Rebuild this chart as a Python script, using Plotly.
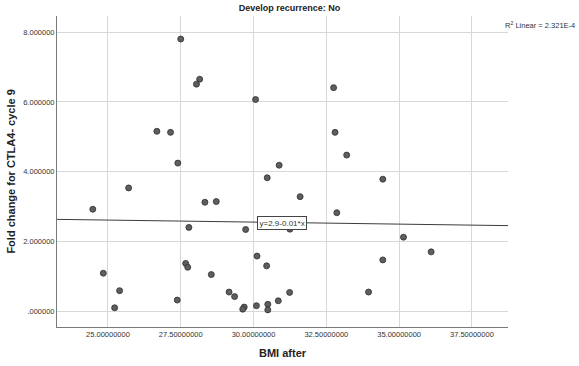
import plotly.graph_objects as go

# Data
bmi_after = [27.50, 28.15, 28.04, 30.07, 26.68, 27.15, 27.40, 32.75, 32.80, 33.20,
             30.88, 30.47, 31.60, 32.86, 29.73, 31.25, 34.44, 35.15, 36.10, 34.44,
             33.95, 25.71, 24.48, 28.33, 28.72, 27.78, 27.67, 27.74, 24.84, 25.40,
             25.23, 27.38, 30.12, 30.45, 28.55, 29.16, 29.35, 29.68, 29.63, 30.10,
             30.49, 30.49, 30.85, 31.24]
fold_change = [7.80, 6.65, 6.51, 6.07, 5.16, 5.13, 4.25, 6.41, 5.13, 4.48,
               4.19, 3.83, 3.29, 2.83, 2.35, 2.36, 3.79, 2.13, 1.71, 1.48,
               0.56, 3.54, 2.93, 3.13, 3.15, 2.41, 1.38, 1.27, 1.10, 0.60,
               0.11, 0.33, 1.59, 1.31, 1.06, 0.56, 0.43, 0.13, 0.07, 0.17,
               0.21, 0.05, 0.31, 0.55]

fit_intercept = 2.91
fit_slope = -0.0116
fit_label = "y=2.9-0.01*x"
r2_label = "R<sup>2</sup> Linear = 2.321E-4"

x_ticks = [25, 27.5, 30, 32.5, 35, 37.5]
x_ticklabels = ["25.00000000", "27.50000000", "30.00000000", "32.50000000", "35.00000000", "37.50000000"]
y_ticks = [0, 2, 4, 6, 8]
y_ticklabels = [".000000", "2.000000", "4.000000", "6.000000", "8.000000"]

x_range = [23.25, 38.74]
y_range = [-0.44, 8.46]

fit_x = [x_range[0], x_range[1]]
fit_y = [fit_intercept + fit_slope * v for v in fit_x]
label_x = 30.98

fig = go.Figure()
fig.add_trace(go.Scatter(x=fit_x, y=fit_y, mode="lines",
                         line=dict(color="#3c3c3c", width=1), hoverinfo="skip"))
fig.add_trace(go.Scatter(x=bmi_after, y=fold_change, mode="markers",
                         marker=dict(size=6, color="#5e5e5e",
                                     line=dict(color="#2e2e2e", width=0.8))))

fig.add_annotation(x=label_x, y=fit_intercept + fit_slope * label_x, text=fit_label,
                   showarrow=False, font=dict(family="Liberation Sans", size=8, color="#333"),
                   bgcolor="white", bordercolor="#444", borderwidth=1, borderpad=1.5)
fig.add_annotation(xref="paper", yref="paper", x=0.99, y=0.972, xanchor="left", yanchor="middle",
                   text=r2_label, showarrow=False,
                   font=dict(family="Liberation Sans", size=7.5, color="#333"))
fig.add_annotation(xref="paper", yref="paper", x=-0.104, y=0.5, xanchor="center", yanchor="middle",
                   text="<b>Fold change for CTLA4- cycle 9</b>", textangle=-90, showarrow=False,
                   font=dict(family="Liberation Sans", size=11, color="#222"))
fig.add_annotation(xref="paper", yref="paper", x=0.5, y=-0.082, xanchor="center", yanchor="middle",
                   text="<b>BMI after</b>", showarrow=False,
                   font=dict(family="Liberation Sans", size=11, color="#222"))

fig.update_layout(
    width=579, height=366,
    margin=dict(l=57, r=71, t=16, b=39),
    paper_bgcolor="white", plot_bgcolor="white",
    showlegend=False,
    title=dict(text="<b>Develop recurrence: No</b>", x=0.5, xref="container",
               y=1 - 8 / 366, yref="container", xanchor="center", yanchor="middle",
               font=dict(family="Liberation Sans", size=9, color="#222")),
    xaxis=dict(range=x_range, tickvals=x_ticks, ticktext=x_ticklabels,
               showgrid=True, gridcolor="#d8d8d8", gridwidth=1, zeroline=False,
               showline=True, linecolor="#7a7a7a", linewidth=1, ticks="",
               tickfont=dict(family="Liberation Sans", size=7.5, color="#333")),
    yaxis=dict(range=y_range, tickvals=y_ticks, ticktext=y_ticklabels,
               showgrid=True, gridcolor="#d8d8d8", gridwidth=1, zeroline=False,
               showline=True, linecolor="#7a7a7a", linewidth=1, ticks="",
               tickfont=dict(family="Liberation Sans", size=7.5, color="#333")),
)

fig.write_html("out.html")
